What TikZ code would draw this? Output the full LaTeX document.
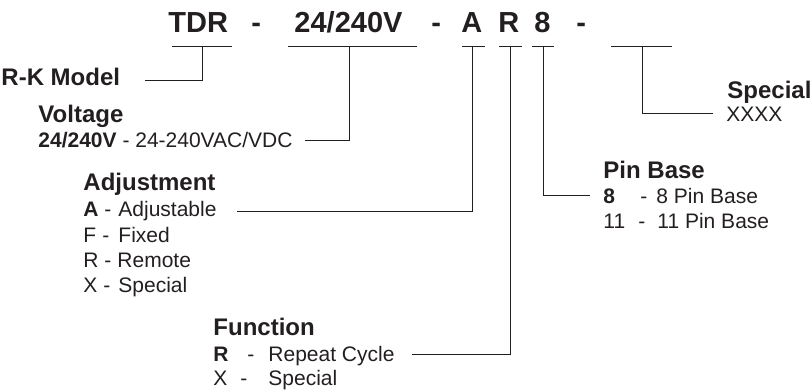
\documentclass[tikz,border=0pt]{standalone}
\usepackage{fontspec}
\setmainfont{Liberation Sans}
\usetikzlibrary{positioning}

\definecolor{ink}{HTML}{231F20}

% key column, dash column, then the text
\newcommand{\optrow}[5]{\makebox[#1][l]{#2}\makebox[#3][l]{-}#4#5}

\begin{document}
\begin{tikzpicture}[x=1pt, y=-1pt, line width=0.9pt, draw=ink,
    every node/.style={inner sep=0pt, anchor=base west, text=ink},
    code/.style={font=\fontsize{29}{29}\selectfont\bfseries},
    head/.style={font=\fontsize{24}{24}\selectfont\bfseries},
    desc/.style={font=\fontsize{21}{21}\selectfont}]
    \useasboundingbox (0,0) rectangle (810,391);

    % part number
    \node (tdr) [code] at (168,32) {TDR};
    \node (dasha) [code] at (251,32) {-};
    \node (volt) [code] at (294,32) {24/240V};
    \node (dashb) [code] at (431,32) {-};
    \node (adj) [code] at (461,32) {A};
    \node (fun) [code] at (498,32) {R};
    \node (pin) [code] at (534,32) {8};
    \node (dashc) [code] at (576,32) {-};

    % underlines
    \draw (172,46) -- (232,46);
    \draw (288,46) -- (417,46);
    \draw (462,46) -- (485,46);
    \draw (499,46) -- (522,46);
    \draw (532,46) -- (554,46);
    \draw (611,46) -- (672,46);

    \coordinate (tdrTap) at (202,46);
    \coordinate (voltTap) at (349,46);
    \coordinate (adjTap) at (472,46);
    \coordinate (funTap) at (510,46);
    \coordinate (pinTap) at (543,46);
    \coordinate (specTap) at (642,46);

    % labels
    \node (model) [head] at (1,85) {R-K Model};

    \node (vhead) [head] at (38,122) {Voltage};
    \node (vdesc) [desc] at (38,147) {\textbf{24/240V} - 24-240VAC/VDC};

    \node (ahead) [head] at (83,190) {Adjustment};
    \node (arowa) [desc] at (83,216) {\optrow{21pt}{\textbf{A}}{14pt}{Adjustable}{}};
    \node (arowb) [desc] at (83,242) {\optrow{19pt}{F}{16pt}{Fixed}{}};
    \node (arowc) [desc] at (83,267) {\optrow{21pt}{R}{13pt}{Remote}{}};
    \node (arowd) [desc] at (83,292) {\optrow{20pt}{X}{15pt}{Special}{}};

    \node (fhead) [head] at (213,335) {Function};
    \node (frowa) [desc] at (213,361) {\optrow{34pt}{\textbf{R}}{21pt}{Repeat Cycle}{}};
    \node (frowb) [desc] at (213,385) {\optrow{27pt}{X}{28pt}{Special}{}};

    \node (phead) [head] at (603,178) {Pin Base};
    \node (prowa) [desc] at (603,203) {\optrow{37pt}{\textbf{8}}{16pt}{8 Pin Base}{}};
    \node (prowb) [desc] at (603,228) {\optrow{35pt}{11}{19pt}{11 Pin Base}{}};

    \node (shead) [head] at (727,98) {Special};
    \node (sdesc) [desc] at (726,121) {XXXX};

    % leader ends
    \coordinate (modelEnd) at (145,80);
    \coordinate (voltEnd) at (305,140);
    \coordinate (adjEnd) at (237,211);
    \coordinate (funEnd) at (412,354);
    \coordinate (pinEnd) at (590,195);
    \coordinate (specEnd) at (713,113);

    \draw (tdrTap) |- (modelEnd);
    \draw (voltTap) |- (voltEnd);
    \draw (adjTap) |- (adjEnd);
    \draw (funTap) |- (funEnd);
    \draw (pinTap) |- (pinEnd);
    \draw (specTap) |- (specEnd);
\end{tikzpicture}
\end{document}
